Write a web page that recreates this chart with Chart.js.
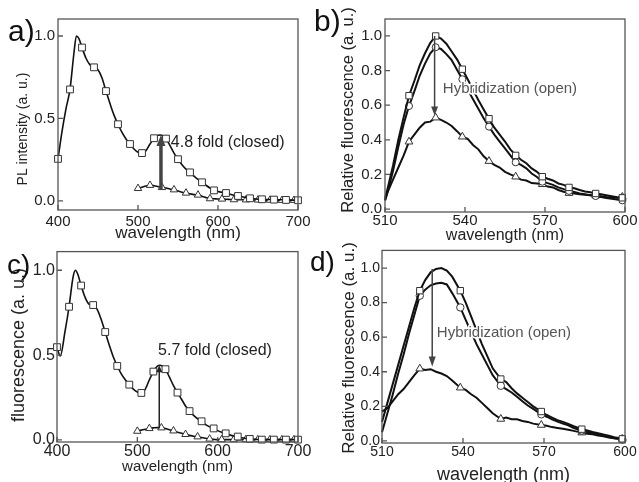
<!DOCTYPE html>
<html><head><meta charset="utf-8">
<script src="https://cdn.jsdelivr.net/npm/chart.js@4.4.0/dist/chart.umd.min.js"></script>
<style>
html,body{margin:0;padding:0;background:#fff;overflow:hidden;width:639px;height:482px;position:relative;}
canvas{position:absolute;}
</style></head><body>
<canvas id="ca" width="320" height="245" style="left:0;top:0"></canvas>
<canvas id="cb" width="339" height="245" style="left:300px;top:0"></canvas>
<canvas id="cc" width="315" height="242" style="left:0;top:240px"></canvas>
<canvas id="cd" width="339" height="248" style="left:300px;top:240px"></canvas>
<script>
// ---------- tick labels ----------
const waveTicksWide = [400, 500, 600, 700];
const waveTicksNarrow = [510, 540, 570, 600];
const yTicksHalf = [0, 0.5, 1.0];
const yTicksFifth = [0, 0.2, 0.4, 0.6, 0.8, 1.0];

// ---------- panel a ----------
const aX = [400,405,410,415,420,423,426,430,435,440,445,450,455,460,465,470,475,480,485,490,495,500,505,510,515,520,525,528,531,535,540,545,550,555,560,565,570,575,580,585,590,595,600,605,610,615,620,625,630,635,640,645,650,655,660,665,670,675,680,685,690,695,700];
const aSquare = [0.255,0.42,0.56,0.676,0.90,1.0,0.985,0.93,0.865,0.825,0.81,0.795,0.745,0.666,0.59,0.52,0.465,0.415,0.375,0.345,0.315,0.295,0.29,0.305,0.345,0.38,0.398,0.40,0.395,0.378,0.335,0.29,0.253,0.22,0.193,0.173,0.15,0.13,0.113,0.095,0.078,0.064,0.057,0.052,0.048,0.04,0.034,0.03,0.025,0.02,0.016,0.013,0.011,0.01,0.009,0.009,0.008,0.007,0.007,0.006,0.005,0.005,0.004];
const aSquareMarkX = [400,415,430,445,460,475,490,505,520,535,550,565,580,595,610,625,640,655,670,685,700];
const aTriX = [500,505,510,515,520,525,530,535,540,545,550,555,560,565,570,575,580,585,590,595,600,605,610,615,620,625,630,635,640,645,650,655,660,665,670,675,680,685,690,695,700];
const aTriangle = [0.076,0.083,0.09,0.095,0.092,0.087,0.082,0.078,0.072,0.068,0.06,0.053,0.048,0.043,0.038,0.036,0.028,0.02,0.014,0.013,0.012,0.012,0.01,0.009,0.008,0.008,0.007,0.007,0.006,0.006,0.006,0.005,0.005,0.005,0.005,0.004,0.004,0.004,0.004,0.004,0.004];
const aTriMarkX = [500,515,530,545,560,575,590,605,620,635,650,665,680,695];

// ---------- panel b ----------
const bX = [510,511,513,515,517,519,521,523,525,527,529,531,533,535,537,539,541,543,545,547,549,551,553,555,557,559,561,563,565,567,569,571,573,575,577,579,581,583,585,587,589,591,593,595,597,599,600];
const bSquare = [0.06,0.12,0.25,0.40,0.53,0.655,0.74,0.83,0.90,0.96,1.0,0.985,0.955,0.91,0.865,0.808,0.75,0.69,0.63,0.575,0.522,0.47,0.43,0.39,0.345,0.31,0.285,0.265,0.235,0.215,0.187,0.175,0.165,0.148,0.14,0.125,0.12,0.11,0.102,0.097,0.09,0.085,0.08,0.074,0.068,0.065,0.06];
const bCircle = [0.05,0.1,0.22,0.36,0.49,0.595,0.68,0.77,0.84,0.90,0.935,0.925,0.895,0.86,0.805,0.75,0.69,0.635,0.58,0.525,0.476,0.43,0.39,0.35,0.31,0.27,0.255,0.235,0.205,0.185,0.158,0.15,0.14,0.125,0.115,0.105,0.098,0.09,0.085,0.08,0.075,0.07,0.064,0.06,0.055,0.05,0.05];
const bTriangle = [0.05,0.1,0.17,0.24,0.31,0.389,0.43,0.47,0.50,0.505,0.528,0.515,0.50,0.48,0.45,0.418,0.405,0.37,0.345,0.305,0.277,0.255,0.24,0.215,0.20,0.187,0.17,0.165,0.15,0.148,0.143,0.13,0.125,0.11,0.10,0.092,0.09,0.085,0.082,0.08,0.078,0.074,0.07,0.068,0.065,0.07,0.068];
const bMarkX = [519,529,539,549,559,569,579,589,599];

// ---------- panel c ----------
const cX = [400,404,410,415,420,423,426,430,435,440,445,450,455,460,465,470,475,480,485,490,495,500,505,510,515,520,525,528,531,535,540,545,550,555,560,565,570,575,580,585,590,595,600,605,610,615,620,625,630,635,640,645,650,655,660,665,670,675,680,685,690,695,700];
const cSquare = [0.547,0.495,0.64,0.785,0.96,1.0,0.975,0.91,0.84,0.80,0.795,0.77,0.71,0.636,0.56,0.49,0.436,0.39,0.355,0.326,0.30,0.283,0.277,0.30,0.355,0.403,0.435,0.44,0.435,0.417,0.37,0.32,0.279,0.24,0.20,0.17,0.145,0.125,0.11,0.09,0.077,0.068,0.055,0.046,0.039,0.03,0.023,0.02,0.013,0.009,0.006,0.004,0.003,0.002,0.002,0.002,0.002,0.002,0.002,0.002,0.002,0.002,0.002];
const cSquareMarkX = [400,415,430,445,460,475,490,505,520,535,550,565,580,595,610,625,640,655,670,685,700];
const cTriX = [500,505,510,515,520,525,530,535,540,545,550,555,560,565,570,575,580,585,590,595,600,605,610,615,620,625,630,635,640,645,650,655,660,665,670,675,680,685,690,695,700];
const cTriangle = [0.052,0.058,0.063,0.068,0.071,0.073,0.072,0.067,0.06,0.054,0.046,0.04,0.033,0.027,0.022,0.019,0.014,0.01,0.006,0.004,0.002,0.002,0.002,0.002,0.002,0.002,0.002,0.002,0.002,0.002,0.002,0.002,0.002,0.002,0.002,0.002,0.002,0.002,0.002,0.002,0.002];
const cTriMarkX = [500,515,530,545,560,575,590,605,620,635,650,665,680,695];

// ---------- panel d ----------
const dX = [510,512,514,516,518,520,522,524,526,528,530,532,534,536,539,541,543,545,547,549,551,554,556,558,560,562,564,566,569,571,573,575,577,579,581,584,586,588,590,592,594,596,599,600];
const dSquare = [0.11,0.22,0.33,0.44,0.55,0.66,0.77,0.869,0.93,0.975,0.995,1.0,0.985,0.95,0.869,0.8,0.72,0.64,0.56,0.49,0.42,0.358,0.34,0.305,0.275,0.25,0.225,0.2,0.17,0.15,0.135,0.12,0.11,0.098,0.085,0.068,0.06,0.052,0.045,0.037,0.03,0.022,0.012,0.01];
const dCircle = [0.05,0.16,0.27,0.39,0.5,0.62,0.73,0.84,0.875,0.9,0.91,0.915,0.905,0.855,0.772,0.7,0.63,0.56,0.5,0.44,0.38,0.319,0.3,0.28,0.255,0.23,0.205,0.185,0.154,0.14,0.125,0.112,0.1,0.09,0.075,0.06,0.052,0.045,0.038,0.03,0.022,0.015,0.008,0.005];
const dTriangle = [0.17,0.19,0.23,0.27,0.3,0.34,0.38,0.418,0.41,0.415,0.4,0.39,0.375,0.35,0.308,0.295,0.27,0.25,0.22,0.19,0.16,0.127,0.135,0.125,0.125,0.115,0.11,0.1,0.092,0.088,0.08,0.075,0.07,0.065,0.058,0.048,0.042,0.038,0.032,0.027,0.02,0.015,0.012,0.01];
const dMarkX = [524,539,554,569,584,599];

// ---------- drawing helpers ----------
const FONT = "'Liberation Sans', Arial, Helvetica, sans-serif";

function series(xs, ys, marks, style, r, lw, smooth) {
  const set = new Set(marks);
  return {
    data: xs.map((x, i) => ({x: x, y: ys[i]})),
    borderColor: '#111', borderWidth: lw, fill: false,
    pointStyle: style,
    pointRadius: c => (c.raw && set.has(c.raw.x)) ? r : 0,
    pointHoverRadius: 0,
    pointBackgroundColor: '#fff', pointBorderColor: '#333', pointBorderWidth: 1,
    cubicInterpolationMode: smooth ? 'monotone' : 'default',
    tension: 0, clip: false
  };
}

const decor = {
  id: 'decor',
  afterDatasetsDraw(chart, args, o) {
    const ctx = chart.ctx, ca = chart.chartArea, x = chart.scales.x, y = chart.scales.y;
    ctx.save();
    ctx.strokeStyle = '#555'; ctx.lineWidth = 1.3;
    ctx.strokeRect(ca.left, ca.top, ca.right - ca.left, ca.bottom - ca.top);
    ctx.beginPath();
    x.ticks.forEach(t => { const px = x.getPixelForValue(t.value); ctx.moveTo(px, ca.bottom); ctx.lineTo(px, ca.bottom - 5); });
    y.ticks.forEach(t => { const py = y.getPixelForValue(t.value); ctx.moveTo(ca.left, py); ctx.lineTo(ca.left + 5, py); });
    ctx.stroke();
    if (o.arrow) {
      const a = o.arrow;
      const px = x.getPixelForValue(a.x), y1 = y.getPixelForValue(a.from), y2 = y.getPixelForValue(a.to);
      const d = Math.sign(y2 - y1);
      ctx.strokeStyle = a.color; ctx.fillStyle = a.color; ctx.lineWidth = a.width;
      ctx.beginPath(); ctx.moveTo(px, y1); ctx.lineTo(px, y2 - d * a.headLen * 0.8); ctx.stroke();
      ctx.beginPath(); ctx.moveTo(px, y2);
      ctx.lineTo(px - a.headW / 2, y2 - d * a.headLen); ctx.lineTo(px + a.headW / 2, y2 - d * a.headLen);
      ctx.closePath(); ctx.fill();
    }
    if (o.note) {
      const n = o.note;
      ctx.font = n.size + 'px ' + FONT; ctx.textAlign = 'left'; ctx.textBaseline = 'middle';
      const nx = x.getPixelForValue(n.x), ny = y.getPixelForValue(n.y);
      if (n.halo) { ctx.strokeStyle = '#fff'; ctx.lineWidth = 3; ctx.lineJoin = 'round'; ctx.strokeText(n.text, nx, ny); }
      ctx.fillStyle = n.color; ctx.fillText(n.text, nx, ny);
    }
    if (o.yTitle) {
      const t = o.yTitle;
      ctx.save();
      ctx.translate(t.x, t.y); ctx.rotate(-Math.PI / 2);
      ctx.font = t.size + 'px ' + FONT; ctx.textAlign = 'center'; ctx.textBaseline = 'middle';
      ctx.fillStyle = '#222'; ctx.fillText(t.text, 0, 0);
      ctx.restore();
    }
    if (o.label) {
      const l = o.label;
      ctx.font = l.size + 'px ' + FONT; ctx.textAlign = 'left'; ctx.textBaseline = 'alphabetic';
      ctx.fillStyle = '#111'; ctx.fillText(l.text, l.x, l.y);
    }
    ctx.restore();
  }
};

function makeChart(id, p) {
  return new Chart(document.getElementById(id), {
    type: 'line',
    data: { datasets: p.datasets },
    options: {
      responsive: false, animation: false, events: [],
      layout: { padding: p.pad },
      plugins: { legend: { display: false }, tooltip: { enabled: false }, decor: p.decor },
      scales: {
        x: {
          type: 'linear', min: p.xMin, max: p.xMax,
          grid: { display: false, drawTicks: false, tickLength: 0 }, border: { display: false },
          afterBuildTicks: s => { s.ticks = p.xTicks.map(v => ({ value: v })); },
          afterFit: s => { s.height = p.xH; },
          ticks: { autoSkip: false, maxRotation: 0, padding: p.xTickPad, color: '#222',
                   font: { family: FONT, size: p.tickSize }, callback: v => String(v) },
          title: { display: true, text: 'wavelength (nm)', color: '#222',
                   font: { family: FONT, size: p.xTitleSize }, padding: { top: 0, bottom: p.xTitlePad } }
        },
        y: {
          type: 'linear', min: p.yMin, max: p.yMax,
          grid: { display: false, drawTicks: false, tickLength: 0 }, border: { display: false },
          afterBuildTicks: s => { s.ticks = p.yTicks.map(v => ({ value: v })); },
          afterFit: s => { s.width = p.yW; },
          ticks: { padding: p.yTickPad, color: '#222', font: { family: FONT, size: p.tickSize },
                   callback: v => Number(v).toFixed(1) }
        }
      }
    },
    plugins: [decor]
  });
}

// ---------- panel a ----------
makeChart('ca', {
  datasets: [
    series(aX, aSquare, aSquareMarkX, 'rect', 4.8, 1.6, true),
    series(aTriX, aTriangle, aTriMarkX, 'triangle', 4.3, 1.6, true)
  ],
  pad: { left: 0, right: 22, top: 19, bottom: 0 },
  xMin: 400, xMax: 700, yMin: -0.055, yMax: 1.103,
  xTicks: waveTicksWide, yTicks: yTicksHalf,
  xH: 35, yW: 58, xTickPad: 3, yTickPad: 3, tickSize: 15, xTitleSize: 17, xTitlePad: 1,
  decor: {
    arrow: { x: 528.7, from: 0.068, to: 0.40, width: 3.5, headLen: 11, headW: 9, color: '#444' },
    note: { text: '4.8 fold (closed)', x: 541, y: 0.353, size: 16, color: '#222', halo: false },
    yTitle: { text: 'PL intensity (a. u.)', x: 23, y: 129, size: 14 },
    label: { text: 'a)', x: 8, y: 41, size: 30 }
  }
});

// ---------- panel b ----------
makeChart('cb', {
  datasets: [
    series(bX, bSquare, bMarkX, 'rect', 4.5, 2, false),
    series(bX, bCircle, bMarkX, 'circle', 3.5, 2, false),
    series(bX, bTriangle, bMarkX, 'triangle', 4.5, 2, false)
  ],
  pad: { left: 0, right: 14, top: 19, bottom: 0 },
  xMin: 510, xMax: 600, yMin: -0.017, yMax: 1.098,
  xTicks: waveTicksNarrow, yTicks: yTicksFifth,
  xH: 33, yW: 85, xTickPad: 0, yTickPad: 3, tickSize: 15, xTitleSize: 16, xTitlePad: 0,
  decor: {
    arrow: { x: 528.6, from: 1.0, to: 0.54, width: 1.5, headLen: 9, headW: 7, color: '#444' },
    note: { text: 'Hybridization (open)', x: 531.7, y: 0.694, size: 15, color: '#555', halo: true },
    yTitle: { text: 'Relative fluorescence (a. u.)', x: 48, y: 110, size: 16.5 },
    label: { text: 'b)', x: 14, y: 31, size: 30 }
  }
});

// ---------- panel c ----------
makeChart('cc', {
  datasets: [
    series(cX, cSquare, cSquareMarkX, 'rect', 4.8, 1.6, true),
    series(cTriX, cTriangle, cTriMarkX, 'triangle', 4.3, 1.6, true)
  ],
  pad: { left: 0, right: 17, top: 9, bottom: 0 },
  xMin: 400, xMax: 700, yMin: -0.012, yMax: 1.11,
  xTicks: waveTicksWide, yTicks: yTicksHalf,
  xH: 40, yW: 57, xTickPad: 0, yTickPad: 2, tickSize: 16, xTitleSize: 15, xTitlePad: 6.5,
  decor: {
    arrow: { x: 527.3, from: 0.068, to: 0.44, width: 1.5, headLen: 7, headW: 6, color: '#222' },
    note: { text: '5.7 fold (closed)', x: 525.8, y: 0.527, size: 16, color: '#222', halo: false },
    yTitle: { text: 'fluorescence (a. u.)', x: 19, y: 105, size: 18 },
    label: { text: 'c)', x: 7, y: 34, size: 28 }
  }
});

// ---------- panel d ----------
makeChart('cd', {
  datasets: [
    series(dX, dSquare, dMarkX, 'rect', 4.5, 2, false),
    series(dX, dCircle, dMarkX, 'circle', 3.7, 2, false),
    series(dX, dTriangle, dMarkX, 'triangle', 4.5, 2, false)
  ],
  pad: { left: 0, right: 14, top: 10, bottom: 0 },
  xMin: 510, xMax: 600, yMin: -0.012, yMax: 1.102,
  xTicks: waveTicksNarrow, yTicks: yTicksFifth,
  xH: 45, yW: 82, xTickPad: 1, yTickPad: 2, tickSize: 14, xTitleSize: 18, xTitlePad: 2.5,
  decor: {
    arrow: { x: 528.6, from: 0.995, to: 0.43, width: 1.5, headLen: 10, headW: 7, color: '#444' },
    note: { text: 'Hybridization (open)', x: 530.3, y: 0.625, size: 15, color: '#555', halo: true },
    yTitle: { text: 'Relative fluorescence (a. u.)', x: 49, y: 108, size: 17 },
    label: { text: 'd)', x: 10, y: 31, size: 28 }
  }
});
</script>
</body></html>
